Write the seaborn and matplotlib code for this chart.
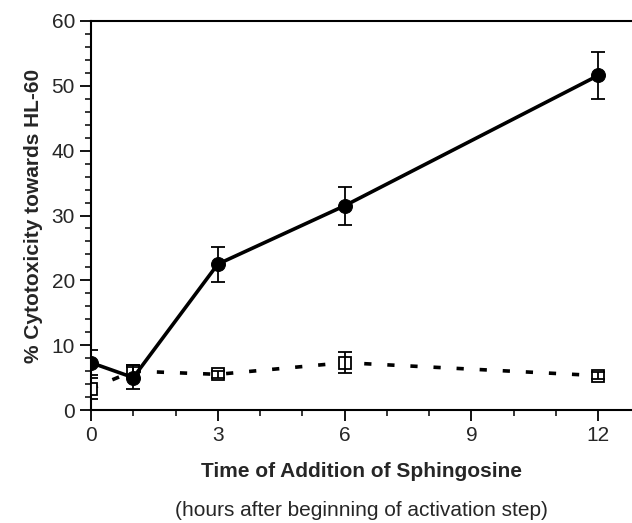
import matplotlib
matplotlib.use("Agg")
import matplotlib.pyplot as plt
import numpy as np
import pandas as pd
import seaborn as sns

# hours after start of activation step
HOURS = [0, 1, 3, 6, 12]
SPH = [7.3, 5.0, 22.5, 31.5, 51.6]        # filled circles
SPH_ERR = [1.9, 1.7, 2.7, 2.9, 3.6]
CTRL = [3.3, 6.0, 5.5, 7.3, 5.3]          # open squares
CTRL_ERR = [1.6, 0.9, 0.5, 1.6, 0.5]

sns.set_style("ticks")
plt.rcParams["font.family"] = ["Liberation Sans", "DejaVu Sans"]

df = pd.DataFrame({"hours": HOURS * 2,
                   "cyto": SPH + CTRL,
                   "grp": ["sph"] * len(HOURS) + ["ctrl"] * len(HOURS)})

fig = plt.figure(figsize=(6.32, 5.23), dpi=100)
ax = fig.add_axes([91 / 632, 113 / 523, 541 / 632, 389 / 523])

sns.lineplot(data=df[df["grp"] == "ctrl"], x="hours", y="cyto", ax=ax,
             color="black", lw=2.6, dashes=[(2, 4.4)], style="grp",
             marker="s", markersize=9, markerfacecolor="white",
             markeredgecolor="black", markeredgewidth=1.3, legend=False, zorder=3)
ax.errorbar(HOURS, CTRL, yerr=CTRL_ERR, fmt="none", ecolor="black",
            elinewidth=1.3, capsize=5, capthick=1.3, zorder=4)

sns.lineplot(data=df[df["grp"] == "sph"], x="hours", y="cyto", ax=ax,
             color="black", lw=2.6, marker="o", markersize=10,
             markeredgecolor="black", legend=False, zorder=5)
ax.errorbar(HOURS, SPH, yerr=SPH_ERR, fmt="none", ecolor="black",
            elinewidth=1.3, capsize=5, capthick=1.3, zorder=6)

ax.set_xlim(0, 12.8)
ax.set_ylim(0, 60)
ax.set_xticks([0, 3, 6, 9, 12])
ax.set_xticks(np.arange(0, 13, 1), minor=True)
ax.set_yticks(np.arange(0, 61, 10))
ax.set_yticks(np.arange(0, 61, 2), minor=True)
ax.tick_params(which="major", length=8, width=1.3, labelsize=15, color="black")
ax.tick_params(which="minor", length=4, width=1.1, color="black")

for s in ["left", "bottom", "top"]:
    ax.spines[s].set_linewidth(1.5)
    ax.spines[s].set_color("black")
ax.spines["right"].set_visible(False)

ax.set_xlabel("Time of Addition of Sphingosine", fontsize=15, fontweight="bold",
              labelpad=12)
ax.set_ylabel("% Cytotoxicity towards HL-60", fontsize=15, fontweight="bold",
              labelpad=6)
fig.text((91 + 632) / 2 / 632, 1 - 511 / 523,
         "(hours after beginning of activation step)", fontsize=15,
         ha="center", va="center")

fig.savefig("out.png", dpi=100, facecolor="white")
